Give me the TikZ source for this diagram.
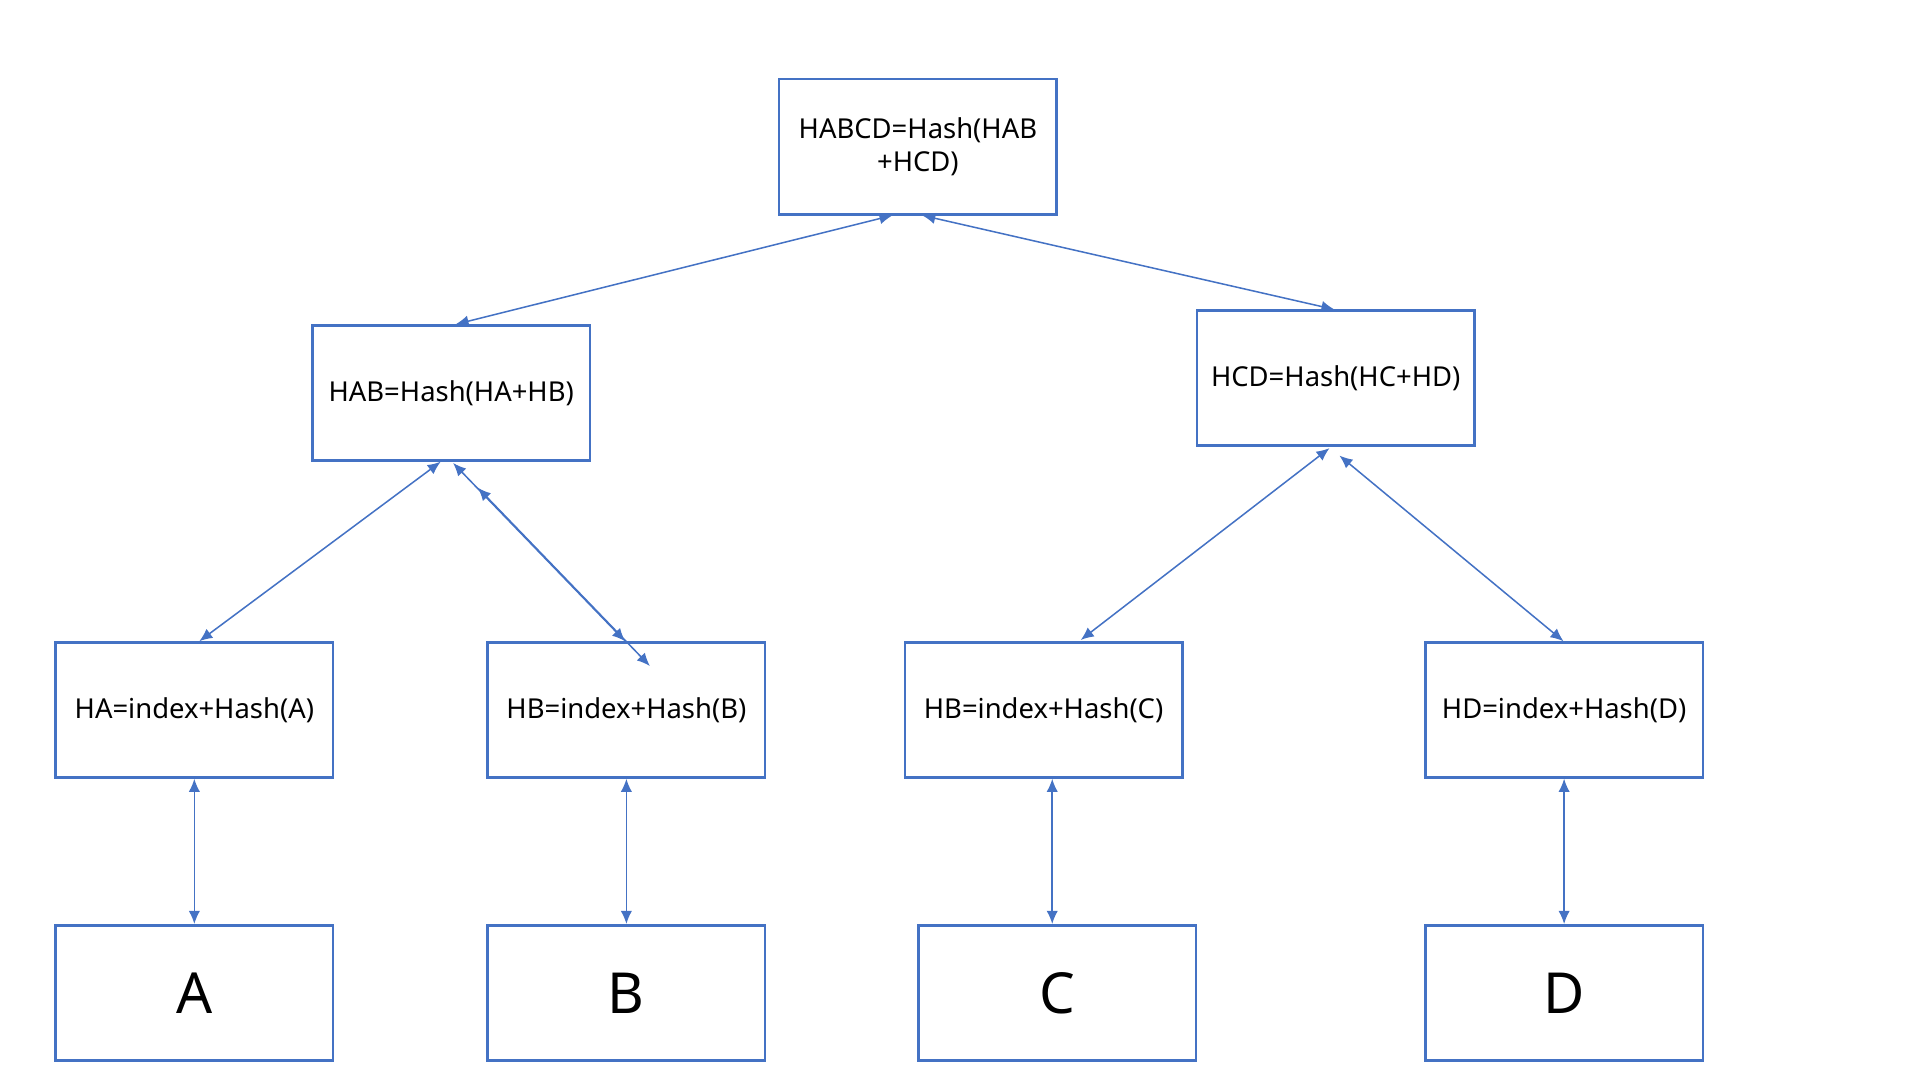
\documentclass[tikz,border=0pt]{standalone}
\usepackage{fontspec}
\setmainfont{Noto Sans}
\usetikzlibrary{arrows.meta}
\definecolor{boxblue}{RGB}{68,114,196}
\tikzset{font=\fontsize{6.3pt}{7.5pt}\selectfont}
\tikzstyle{box}=[draw=boxblue,line width=0.6pt,minimum width=2.24cm,minimum height=1.09cm,inner sep=1pt,align=center,text width=2.1cm]
\tikzstyle{leaf}=[box,font=\fontsize{13pt}{15pt}\selectfont]
\tikzstyle{link}=[draw=boxblue,line width=0.35pt,{Latex[length=3pt,width=2.6pt]}-{Latex[length=3pt,width=2.6pt]}]

\begin{document}
\begin{tikzpicture}[x=0.01cm,y=-0.01cm]
	\useasboundingbox (0,0) rectangle (1551,873);
	% nodes
	\node [style=box] (0) at (741.5,118.5) {HABCD=Hash(HAB\\+HCD)};
	\node [style=box] (1) at (364.5,317.5) {HAB=Hash(HA+HB)};
	\node [style=box] (2) at (1079,305.5) {HCD=Hash(HC+HD)};
	\node [style=box] (3) at (157,573.5) {HA=index+Hash(A)};
	\node [style=box] (4) at (506,573.5) {HB=index+Hash(B)};
	\node [style=box] (5) at (843,573.5) {HB=index+Hash(C)};
	\node [style=box] (6) at (1263.5,573.5) {HD=index+Hash(D)};
	\node [style=leaf] (7) at (157,802) {A};
	\node [style=leaf] (8) at (506,802) {B};
	\node [style=leaf] (9) at (854,802) {C};
	\node [style=leaf] (10) at (1263.5,802) {D};
	% end points
	\coordinate (a0) at (721,174);
	\coordinate (a1) at (368,262);
	\coordinate (b0) at (745,174);
	\coordinate (b1) at (1078,250);
	\coordinate (c0) at (356,373);
	\coordinate (c1) at (161,518);
	\coordinate (d0) at (366,374);
	\coordinate (d1) at (505,518);
	\coordinate (e0) at (386,394);
	\coordinate (e1) at (525,538);
	\coordinate (f0) at (1074,362);
	\coordinate (f1) at (873,517);
	\coordinate (g0) at (1082,368);
	\coordinate (g1) at (1263,518);
	% connectors
	\draw [style=link] (a0) to (a1);
	\draw [style=link] (b0) to (b1);
	\draw [style=link] (c0) to (c1);
	\draw [style=link] (d0) to (d1);
	\draw [style=link] (e0) to (e1);
	\draw [style=link] (f0) to (f1);
	\draw [style=link] (g0) to (g1);
	\draw [style=link] (3.south) to (7.north);
	\draw [style=link] (4.south) to (8.north);
	\draw [style=link] (5.south -| 9.north) ++(-4,0) coordinate (h0) (h0) to (h0 |- 9.north);
	\draw [style=link] (6.south) to (10.north);
\end{tikzpicture}
\end{document}
